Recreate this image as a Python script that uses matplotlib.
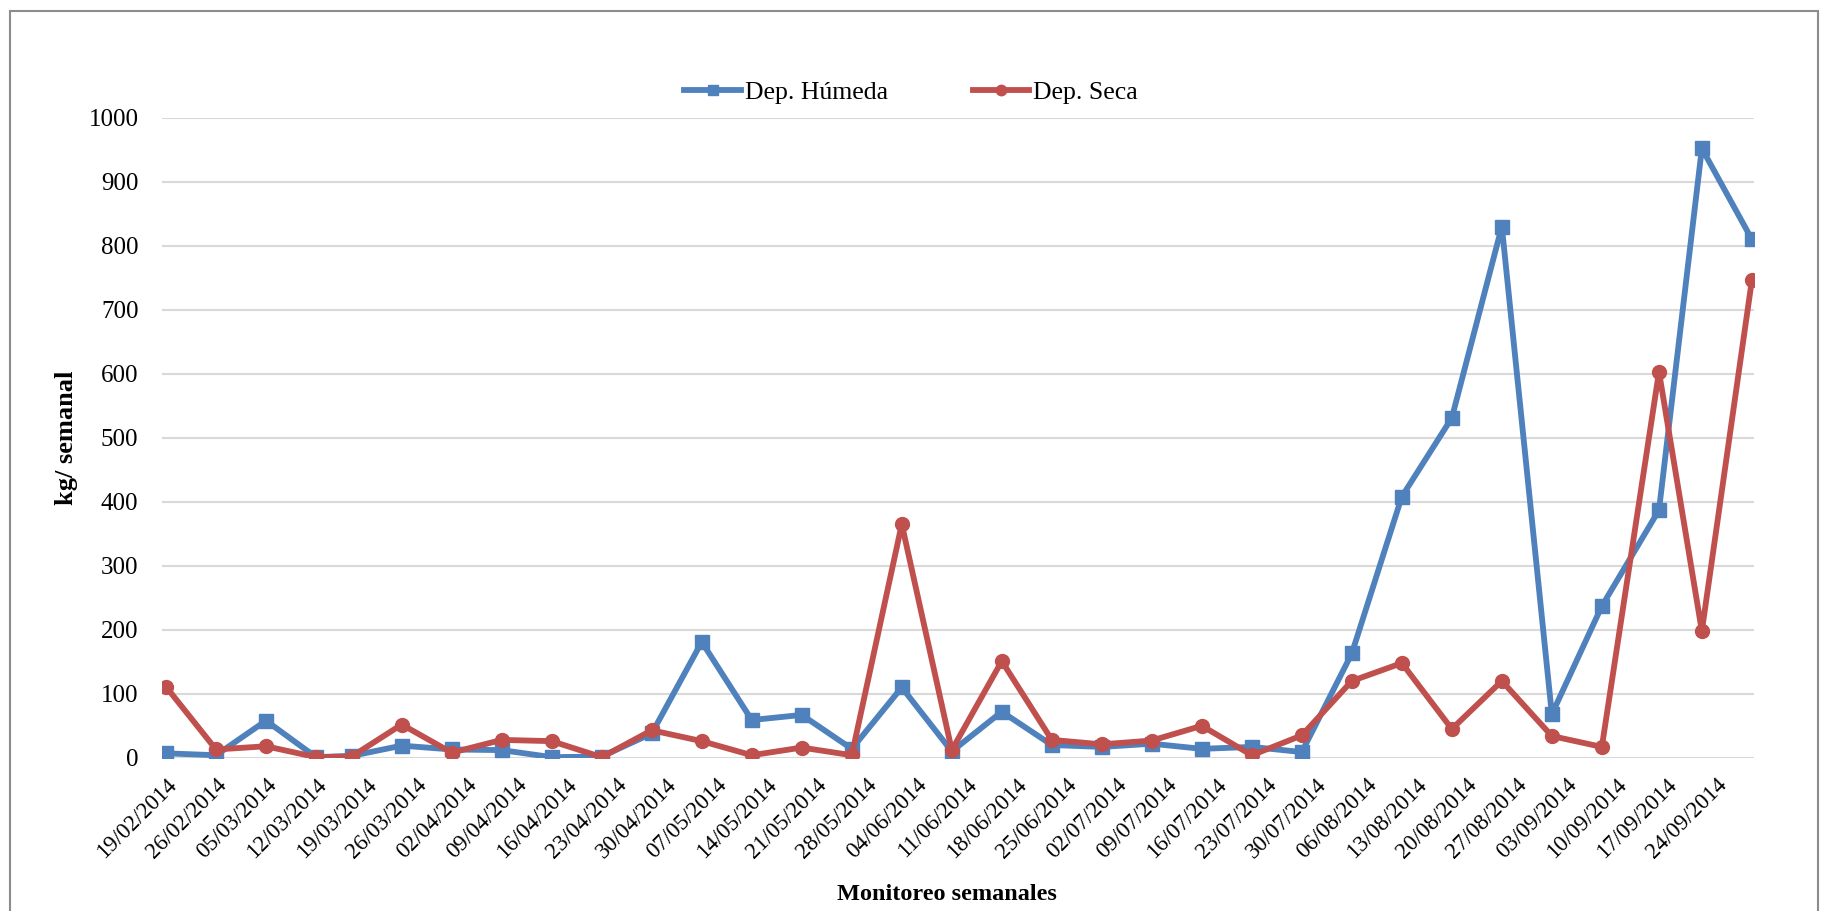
import matplotlib
matplotlib.use("Agg")
import matplotlib.pyplot as plt
import matplotlib.dates as mdates
from matplotlib.patches import Rectangle
import pandas as pd

# --- Datos de monitoreo semanal ---
fechas = ['2014-02-19', '2014-02-26', '2014-03-05', '2014-03-12', '2014-03-17',
          '2014-03-24', '2014-03-31', '2014-04-07', '2014-04-14', '2014-04-21',
          '2014-04-28', '2014-05-05', '2014-05-12', '2014-05-19', '2014-05-26',
          '2014-06-02', '2014-06-09', '2014-06-16', '2014-06-23', '2014-06-30',
          '2014-07-07', '2014-07-14', '2014-07-21', '2014-07-28', '2014-08-04',
          '2014-08-11', '2014-08-18', '2014-08-25', '2014-09-01', '2014-09-08',
          '2014-09-16', '2014-09-22', '2014-09-29']

dep_humeda = [7, 4, 58, 1, 3, 19, 13, 12, 1, 2, 38, 181, 59, 67, 14, 110, 10,
              72, 20, 17, 22, 14, 17, 9, 163, 408, 531, 830, 68, 237, 387, 952, 810]

dep_seca = [111, 13, 18, 1, 2, 52, 8, 28, 26, 1, 43, 26, 4, 16, 4, 365, 12,
            151, 28, 21, 27, 50, 4, 35, 120, 148, 45, 120, 34, 17, 603, 198, 746]

# ticks semanales del eje x
tick_inicio = '2014-02-19'
tick_fin = '2014-09-24'

AZUL = '#4F81BD'
ROJO = '#C0504D'

plt.rcParams['font.family'] = ['Liberation Serif', 'DejaVu Serif']

W, H = 1825, 911
fig = plt.figure(figsize=(W / 100, H / 100), dpi=100)
ax = fig.add_axes([162 / W, 1 - 757.8 / H, (1754 - 162) / W, (757.8 - 117.7) / H])

x = pd.to_datetime(fechas)
ax.plot(x, dep_humeda, color=AZUL, lw=4.2, marker='s', ms=9.5, label='Dep. Húmeda',
        solid_joinstyle='round', zorder=3)
ax.plot(x, dep_seca, color=ROJO, lw=4.2, marker='o', ms=10, label='Dep. Seca',
        solid_joinstyle='round', zorder=3)

# eje y
ax.set_ylim(0, 1000)
ax.set_yticks(range(0, 1001, 100))
ax.grid(axis='y', color='#D9D9D9', lw=1.5, zorder=0)
ax.set_axisbelow(True)

# eje x con fechas semanales
ticks = pd.date_range(tick_inicio, tick_fin, freq='7D')
d0 = mdates.date2num(pd.Timestamp(tick_inicio))
ax.set_xlim(d0 - 0.56, d0 + 222.3)
ax.set_xticks(ticks)
ax.xaxis.set_major_formatter(mdates.DateFormatter('%d/%m/%Y'))
for lbl in ax.get_xticklabels():
    lbl.set_rotation(45)
    lbl.set_ha('right')
    lbl.set_va('top')
    lbl.set_rotation_mode('anchor')

ax.tick_params(axis='x', length=0, pad=12, labelsize=16.5)
ax.tick_params(axis='y', length=0, pad=17, labelsize=18)

for s in ax.spines.values():
    s.set_visible(False)

ax.set_ylabel('kg/ semanal', fontsize=19, fontweight='bold', va='center')
ax.yaxis.set_label_coords((66 - 162) / 1592, 0.5)
ax.set_xlabel('Monitoreo semanales', fontsize=17.5, fontweight='bold', va='center')
ax.xaxis.set_label_coords((947 - 162) / 1592, -(894 - 757.8) / 640.1)

fig.legend(loc='center', bbox_to_anchor=(911 / W, 1 - 92.7 / H), ncol=2,
           frameon=False, fontsize=18.5, handlelength=2.2, handletextpad=0.15,
           columnspacing=3.3, markerscale=0.75)

# borde del area del grafico
fig.add_artist(Rectangle((10 / W, -0.05), (1818 - 10) / W, 1.05 - 11 / H,
                         transform=fig.transFigure, fill=False,
                         edgecolor='#8C8C8C', lw=1.5))

fig.savefig('out.png', dpi=100)
